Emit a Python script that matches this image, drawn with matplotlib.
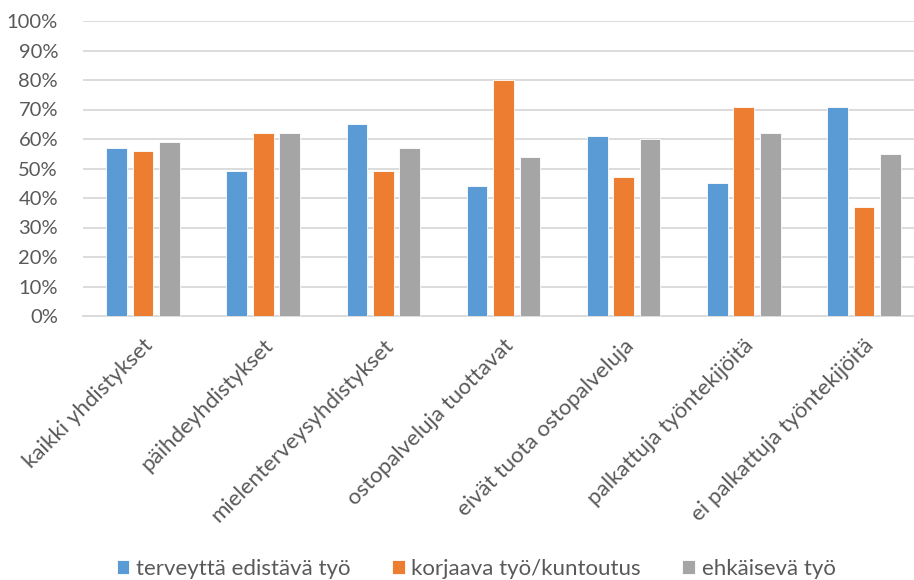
import matplotlib
matplotlib.use("Agg")
import matplotlib.pyplot as plt
import numpy as np
from matplotlib.ticker import FuncFormatter

plt.rcParams['font.family'] = ['Lato', 'DejaVu Sans']

categories = [
    "kaikki yhdistykset",
    "päihdeyhdistykset",
    "mielenterveysyhdistykset",
    "ostopalveluja tuottavat",
    "eivät tuota ostopalveluja",
    "palkattuja työntekijöitä",
    "ei palkattuja työntekijöitä",
]
series_names = ["terveyttä edistävä työ", "korjaava työ/kuntoutus", "ehkäisevä työ"]
terveytta = [57, 49, 65, 44, 61, 45, 71]
korjaava = [56, 62, 49, 80, 47, 71, 37]
ehkaiseva = [59, 62, 57, 54, 60, 62, 55]
colors = ["#5B9BD5", "#ED7D31", "#A5A5A5"]

text_col = "#595959"

fig = plt.figure(figsize=(9.14, 5.8), dpi=100)
# plot area runs a bit past the right edge, like the source image
ax = fig.add_axes([83 / 914, 1 - 316 / 580, 841 / 914, 295 / 580])

x = np.arange(len(categories))
width = 0.172
step = 0.22
for i, (vals, name) in enumerate(zip([terveytta, korjaava, ehkaiseva], series_names)):
    ax.bar(x + (i - 1) * step, vals, width, color=colors[i], label=name,
           edgecolor="white", linewidth=0.6, zorder=3)

ax.set_xlim(-0.5, len(categories) - 0.5)
ax.set_ylim(0, 100)
ax.set_yticks(range(0, 101, 10))
ax.yaxis.set_major_formatter(FuncFormatter(lambda v, p: f"{int(v)}%"))
ax.grid(axis="y", color="#D9D9D9", linewidth=1.3, zorder=0)
for s in ["top", "right", "left"]:
    ax.spines[s].set_visible(False)
ax.spines["bottom"].set_color("#D9D9D9")
ax.spines["bottom"].set_linewidth(1.3)
ax.spines["bottom"].set_zorder(1)

ax.tick_params(axis="y", length=0, labelsize=14.5, labelcolor=text_col, pad=18)
ax.tick_params(axis="x", length=0, labelsize=16, labelcolor=text_col, pad=14)
ax.set_xticks(x)
ax.set_xticklabels(categories, rotation=45, ha="right", rotation_mode="anchor")

handles, labels = ax.get_legend_handles_labels()
fig.legend(handles, labels, loc="center", bbox_to_anchor=(476 / 914, 1 - 569 / 580), ncol=3,
           frameon=False, fontsize=16, labelcolor=text_col, handlelength=0.58,
           handleheight=0.58, handletextpad=0.3, columnspacing=1.85,
           borderpad=0, borderaxespad=0)

fig.savefig("out.png", dpi=100)
